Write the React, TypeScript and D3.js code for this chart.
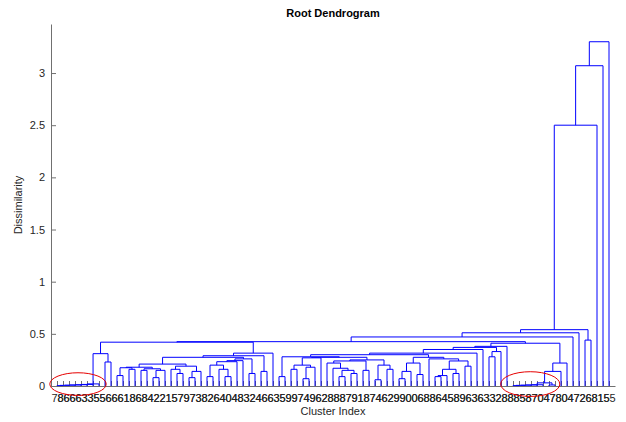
import React, { useEffect, useRef } from 'react';
import * as d3 from 'd3';

// leaf labels in display order (they overlap on the axis)
const leafLabels = [
  '78', '86', '66', '66', '63', '33', '35', '55', '56', '66',
  '66', '61', '18', '86', '68', '84', '42', '22', '21', '15',
  '57', '79', '97', '73', '38', '82', '26', '64', '40', '04',
  '48', '83', '32', '24', '46', '66', '63', '35', '59', '99',
  '97', '74', '49', '96', '62', '28', '88', '88', '87', '79',
  '91', '18', '87', '74', '46', '62', '29', '99', '90', '00',
  '06', '68', '88', '86', '64', '45', '58', '89', '96', '63',
  '36', '63', '33', '32', '28', '88', '88', '85', '58', '87',
  '70', '04', '47', '78', '80', '04', '47', '72', '26', '68',
  '81', '15', '55',
];

// linkage: [cluster id, left, right, height]; numbers are leaf positions
const merges: [string, number | string, number | string, number][] = [
  ['t1', 1, 2, 0.004],
  ['t2', 't1', 3, 0.006],
  ['t3', 't2', 4, 0.008],
  ['t4', 't3', 5, 0.01],
  ['t5', 't4', 6, 0.012],
  ['t6', 't5', 7, 0.015],
  ['t7', 't6', 8, 0.02],
  ['p1', 9, 10, 0.23],
  ['s1', 't7', 'p1', 0.31],
  ['w1', 11, 12, 0.1],
  ['w2', 13, 14, 0.16],
  ['w3', 'w1', 'w2', 0.175],
  ['w4', 15, 16, 0.15],
  ['w5', 17, 18, 0.08],
  ['w6', 'w5', 19, 0.15],
  ['w7', 'w4', 'w6', 0.165],
  ['w8', 'w3', 'w7', 0.18],
  ['w9', 21, 22, 0.12],
  ['w10', 20, 'w9', 0.16],
  ['w11', 23, 24, 0.08],
  ['w12', 'w11', 25, 0.14],
  ['w13', 'w10', 'w12', 0.19],
  ['w14', 'w8', 'w13', 0.21],
  ['v1', 26, 27, 0.09],
  ['v2', 29, 30, 0.09],
  ['v3', 28, 'v2', 0.16],
  ['v4', 'v1', 'v3', 0.2],
  ['v5', 'v4', 31, 0.233],
  ['v6', 'v5', 32, 0.243],
  ['v7', 33, 34, 0.12],
  ['v8', 'v6', 'v7', 0.26],
  ['w', 'w14', 'v8', 0.275],
  ['q', 35, 36, 0.14],
  ['x', 'w', 'q', 0.29],
  ['xy', 'x', 37, 0.315],
  ['L', 's1', 'xy', 0.42],
  ['m1', 38, 39, 0.09],
  ['m2', 40, 41, 0.16],
  ['m3', 42, 43, 0.07],
  ['m4', 'm3', 44, 0.18],
  ['m5', 'm2', 'm4', 0.2],
  ['m6', 'm5', 45, 0.27],
  ['n1', 48, 49, 0.09],
  ['n2', 50, 51, 0.12],
  ['n3', 'n1', 'n2', 0.15],
  ['n4', 47, 'n3', 0.17],
  ['n5', 46, 'n4', 0.22],
  ['n6', 52, 53, 0.15],
  ['n7', 'n5', 'n6', 0.24],
  ['n8', 54, 55, 0.06],
  ['n9', 56, 57, 0.16],
  ['n10', 'n8', 'n9', 0.2],
  ['n11', 'n7', 'n10', 0.25],
  ['lm1', 'm6', 'n11', 0.275],
  ['lm', 'm1', 'lm1', 0.28],
  ['k1', 58, 59, 0.07],
  ['k2', 'k1', 60, 0.14],
  ['k3', 61, 62, 0.11],
  ['k4', 'k2', 'k3', 0.22],
  ['k5', 64, 65, 0.09],
  ['k6', 'k5', 66, 0.1],
  ['k7', 67, 68, 0.12],
  ['k8', 'k6', 'k7', 0.16],
  ['k9', 69, 70, 0.19],
  ['k10', 'k8', 'k9', 0.24],
  ['k11', 63, 'k10', 0.26],
  ['k12', 'k4', 'k11', 0.275],
  ['mm', 'lm', 'k12', 0.3],
  ['mm71', 'mm', 71, 0.315],
  ['mm72', 'mm71', 72, 0.35],
  ['u1', 73, 74, 0.28],
  ['u2', 'u1', 75, 0.33],
  ['mm73', 'mm72', 'u2', 0.37],
  ['mid', 'mm73', 76, 0.38],
  ['r1', 77, 78, 0.004],
  ['r2', 'r1', 79, 0.006],
  ['r3', 'r2', 80, 0.008],
  ['r4', 'r3', 81, 0.01],
  ['r5', 'r4', 82, 0.012],
  ['r6', 83, 84, 0.01],
  ['r7', 'r5', 'r6', 0.03],
  ['r8', 'r7', 85, 0.14],
  ['r9', 'r8', 86, 0.22],
  ['R', 'mid', 'r9', 0.41],
  ['C', 'L', 'R', 0.425],
  ['c1', 'C', 87, 0.47],
  ['c2', 'c1', 88, 0.51],
  ['d1', 89, 90, 0.44],
  ['c3', 'c2', 'd1', 0.54],
  ['c4', 'c3', 91, 2.5],
  ['c5', 'c4', 92, 3.07],
  ['c6', 'c5', 93, 3.3],
];

const yTicks = [0, 0.5, 1, 1.5, 2, 2.5, 3];
const yMax = 3.47;

// red hand-drawn marks, in leaf / dissimilarity units
const ellipses = [
  { from: -0.2, to: 9.2, lo: -0.09, hi: 0.127 },
  { from: 74.95, to: 84.8, lo: -0.1, hi: 0.137 },
];

const FONT = "'Liberation Sans', Arial, Helvetica, sans-serif";

const App = () => {
  const svgRef = useRef<SVGSVGElement>(null);

  useEffect(() => {
    const svg = d3.select(svgRef.current);
    svg.selectAll('*').remove();

    const n = leafLabels.length;
    const left = 51, right = 615, top = 24, bottom = 386;

    const x = d3.scaleLinear().domain([0, n + 1]).range([left, right]);
    const y = d3.scaleLinear().domain([0, yMax]).range([bottom, top]);

    svg.append('rect').attr('width', 626).attr('height', 422).attr('fill', '#fff');

    // axes
    const yAxis = svg.append('g')
      .attr('transform', `translate(${left},0)`)
      .call(d3.axisLeft(y).tickValues(yTicks).tickSize(-5).tickSizeOuter(0).tickPadding(6)
        .tickFormat(d3.format('~g') as any));

    const xAxis = svg.append('g')
      .attr('transform', `translate(0,${bottom})`)
      .call(d3.axisBottom(x).tickValues(d3.range(1, n + 1)).tickSize(-5).tickSizeOuter(0).tickPadding(8)
        .tickFormat((d: any) => leafLabels[d - 1]));

    [yAxis, xAxis].forEach(ax => {
      ax.selectAll('path,line').attr('stroke', '#707070');
      ax.selectAll('text')
        .attr('fill', '#262626')
        .style('font-family', FONT)
        .style('font-size', '11px');
    });

    // dendrogram links
    const nodes = new Map<string, { x: number; h: number }>();
    const pos = (id: number | string) =>
      typeof id === 'number' ? { x: x(id), h: 0 } : nodes.get(id)!;

    const links = svg.append('g')
      .attr('fill', 'none')
      .attr('stroke', '#0000ff')
      .attr('stroke-width', 1);

    merges.forEach(([id, a, b, h]) => {
      const L = pos(a);
      const R = pos(b);
      links.append('path')
        .attr('d', `M${L.x},${y(L.h)}V${y(h)}H${R.x}V${y(R.h)}`);
      nodes.set(id, { x: (L.x + R.x) / 2, h });
    });

    // red ellipses
    ellipses.forEach(e => {
      svg.append('ellipse')
        .attr('cx', (x(e.from) + x(e.to)) / 2)
        .attr('cy', (y(e.lo) + y(e.hi)) / 2)
        .attr('rx', (x(e.to) - x(e.from)) / 2)
        .attr('ry', (y(e.lo) - y(e.hi)) / 2)
        .attr('fill', 'none')
        .attr('stroke', '#e60000')
        .attr('stroke-width', 1);
    });

    // titles
    svg.append('text')
      .attr('x', (left + right) / 2)
      .attr('y', 17)
      .attr('text-anchor', 'middle')
      .style('font-family', FONT)
      .style('font-size', '11px')
      .style('font-weight', 'bold')
      .text('Root Dendrogram');

    svg.append('text')
      .attr('x', (left + right) / 2)
      .attr('y', 415)
      .attr('text-anchor', 'middle')
      .attr('fill', '#262626')
      .style('font-family', FONT)
      .style('font-size', '11px')
      .text('Cluster Index');

    svg.append('text')
      .attr('transform', `translate(22,${(top + bottom) / 2}) rotate(-90)`)
      .attr('text-anchor', 'middle')
      .attr('fill', '#262626')
      .style('font-family', FONT)
      .style('font-size', '11px')
      .text('Dissimilarity');
  }, []);

  return (
    <svg
      ref={svgRef}
      width={626}
      height={422}
      style={{ position: 'absolute', left: 0, top: 0 }}
    />
  );
};

export default App;
